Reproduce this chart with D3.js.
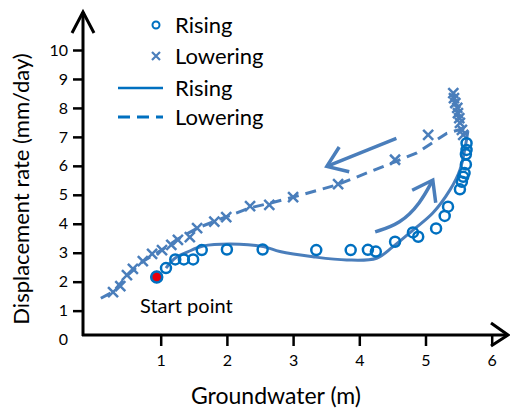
<!DOCTYPE html>
<html>
<head>
  <meta charset="utf-8">
  <title>Groundwater vs displacement rate</title>
  <script src="https://d3js.org/d3.v7.min.js"></script>
  <style>
    body { margin: 0; background: white; }
    text { font-family: Lato, "Open Sans", sans-serif; fill: #000; }
  </style>
</head>
<body>
<script>
  // Data (groundwater m, displacement mm/day)
  var risingPts = [
    [0.94, 2.16], [1.08, 2.47], [1.22, 2.77], [1.35, 2.77], [1.49, 2.77],
    [1.62, 3.09], [2.00, 3.11], [2.54, 3.11], [3.35, 3.09], [3.87, 3.09],
    [4.13, 3.10], [4.25, 3.04], [4.54, 3.38], [4.81, 3.70], [4.89, 3.55],
    [5.16, 3.84], [5.29, 4.27], [5.34, 4.59], [5.52, 5.19], [5.55, 5.45],
    [5.57, 5.62], [5.59, 5.75], [5.61, 6.05], [5.61, 6.40], [5.62, 6.55],
    [5.62, 6.78]
  ];
  var loweringPts = [
    [5.42, 8.51], [5.43, 8.34], [5.45, 8.17], [5.48, 8.00], [5.49, 7.82],
    [5.51, 7.65], [5.52, 7.48], [5.55, 7.24], [5.57, 7.07], [5.04, 7.07],
    [4.54, 6.21], [3.68, 5.37], [3.00, 4.92], [2.64, 4.65], [2.35, 4.61],
    [1.99, 4.23], [1.81, 4.07], [1.55, 3.85], [1.44, 3.54], [1.26, 3.44],
    [1.16, 3.27], [1.02, 3.09], [0.87, 2.96], [0.73, 2.71], [0.58, 2.44],
    [0.49, 2.23], [0.39, 1.85], [0.28, 1.64]
  ];
  var risingCurve = [
    [1.08, 2.47], [1.22, 2.82], [1.40, 3.02], [1.64, 3.23], [2.05, 3.30],
    [2.55, 3.21], [2.80, 3.04], [3.30, 2.86], [3.81, 2.75], [4.26, 2.81],
    [4.51, 3.21], [4.81, 3.78], [5.11, 4.37], [5.37, 5.17], [5.52, 5.86],
    [5.60, 6.65], [5.64, 7.20]
  ];
  var loweringCurve = [
    [5.42, 8.55], [5.47, 8.00], [5.52, 7.50], [5.56, 7.28], [5.32, 7.12],
    [4.87, 6.45], [4.54, 6.14], [3.66, 5.34], [3.00, 4.92], [2.65, 4.71],
    [2.35, 4.55], [2.00, 4.25], [1.55, 3.85], [1.26, 3.47], [1.02, 3.10],
    [0.73, 2.70], [0.49, 2.20], [0.28, 1.65], [0.04, 1.36]
  ];
  var startPoint = [0.94, 2.16];
  var xTicks = [1, 2, 3, 4, 5, 6];
  var yTicks = [0, 1, 2, 3, 4, 5, 6, 7, 8, 9, 10];
  // direction arrows
  var arrowLower = [[4.56, 6.95], [3.51, 5.98]];
  var arrowRise = [[4.24, 3.72], [4.62, 4.00], [4.92, 4.70], [5.11, 5.51]];

  var W = 510, H = 412;
  var axisX = 83, axisY = 335;
  var blue = "#0070C0", steel = "#4A7EBB";

  var svg = d3.select("body").append("svg")
      .attr("width", W).attr("height", H);

  var x = d3.scaleLinear().domain([0, 6]).range([94.5, 491.7]);
  var y = d3.scaleLinear().domain([0, 10]).range([339.6, 50]);

  // axes lines with arrowheads
  svg.append("path")
      .attr("d", "M" + axisX + "," + (axisY + 1) + "V12")
      .attr("stroke", "#000").attr("stroke-width", 3).attr("fill", "none");
  svg.append("path")
      .attr("d", "M72,33L" + axisX + ",12L94,33")
      .attr("stroke", "#000").attr("stroke-width", 3).attr("fill", "none");
  svg.append("path")
      .attr("d", "M" + (axisX - 1) + "," + axisY + "H507")
      .attr("stroke", "#000").attr("stroke-width", 3).attr("fill", "none");
  svg.append("path")
      .attr("d", "M491,323L508," + axisY + "L491,346")
      .attr("stroke", "#000").attr("stroke-width", 3).attr("fill", "none");

  // y ticks
  var gy = svg.append("g")
      .attr("transform", "translate(" + axisX + ",0)")
      .call(d3.axisLeft(y).tickValues(yTicks).tickSize(10).tickPadding(5)
              .tickFormat(d3.format("d")));
  gy.select(".domain").remove();
  gy.selectAll(".tick line").attr("stroke", "#000").attr("stroke-width", 2.5)
      .filter(function(d) { return d === 0; }).remove();
  gy.selectAll(".tick text").style("font-size", "16px").style("font-family", "Lato");

  // x ticks
  var gx = svg.append("g")
      .attr("transform", "translate(0," + axisY + ")")
      .call(d3.axisBottom(x).tickValues(xTicks).tickSize(11).tickPadding(9)
              .tickFormat(d3.format("d")));
  gx.select(".domain").remove();
  gx.selectAll(".tick line").attr("stroke", "#000").attr("stroke-width", 2.5);
  gx.selectAll(".tick text").style("font-size", "16px").style("font-family", "Lato");

  // axis titles
  svg.append("text")
      .attr("x", 276).attr("y", 404)
      .attr("text-anchor", "middle")
      .style("font-size", "23px")
      .text("Groundwater (m)");
  svg.append("text")
      .attr("transform", "translate(29,189) rotate(-90)")
      .attr("text-anchor", "middle")
      .style("font-size", "22px")
      .text("Displacement rate (mm/day)");

  var line = d3.line().x(function(d) { return x(d[0]); }).y(function(d) { return y(d[1]); });

  // fitted curves
  svg.append("path")
      .attr("d", line.curve(d3.curveCatmullRom)(risingCurve))
      .attr("fill", "none").attr("stroke", steel).attr("stroke-width", 3);
  svg.append("path")
      .attr("d", line.curve(d3.curveLinear)(loweringCurve))
      .attr("fill", "none").attr("stroke", steel).attr("stroke-width", 3)
      .attr("stroke-dasharray", "11,7");

  // lowering X markers
  var xm = 5;
  svg.selectAll(".xmark")
      .data(loweringPts)
      .enter().append("path")
      .attr("class", "xmark")
      .attr("d", function(d) {
        var cx = x(d[0]), cy = y(d[1]);
        return "M" + (cx - xm) + "," + (cy - xm) + "L" + (cx + xm) + "," + (cy + xm) +
               "M" + (cx - xm) + "," + (cy + xm) + "L" + (cx + xm) + "," + (cy - xm);
      })
      .attr("stroke", steel).attr("stroke-width", 2.5).attr("fill", "none");

  // rising circles
  svg.selectAll(".rmark")
      .data(risingPts)
      .enter().append("circle")
      .attr("class", "rmark")
      .attr("cx", function(d) { return x(d[0]); })
      .attr("cy", function(d) { return y(d[1]); })
      .attr("r", 5)
      .attr("fill", "none").attr("stroke", blue).attr("stroke-width", 2.5);

  svg.append("circle")
      .attr("cx", x(startPoint[0])).attr("cy", y(startPoint[1]))
      .attr("r", 5.5)
      .attr("fill", "#E8000B").attr("stroke", blue).attr("stroke-width", 2.5);
  svg.append("text")
      .attr("x", 140).attr("y", 313)
      .style("font-size", "20px")
      .text("Start point");

  // direction arrows
  function drawArrow(pts, curved) {
    var l = d3.line().x(function(d) { return x(d[0]); }).y(function(d) { return y(d[1]); })
        .curve(curved ? d3.curveBasis : d3.curveLinear);
    svg.append("path").attr("d", l(pts))
        .attr("fill", "none").attr("stroke", steel).attr("stroke-width", 3.5);
    var a = pts[pts.length - 2], b = pts[pts.length - 1];
    var tx = x(b[0]), ty = y(b[1]);
    var ang = Math.atan2(ty - y(a[1]), tx - x(a[0]));
    var len = 23, spread = 0.62;
    var p1 = [tx - len * Math.cos(ang - spread), ty - len * Math.sin(ang - spread)];
    var p2 = [tx - len * Math.cos(ang + spread), ty - len * Math.sin(ang + spread)];
    svg.append("path")
        .attr("d", "M" + p1 + "L" + tx + "," + ty + "L" + p2)
        .attr("fill", "none").attr("stroke", steel).attr("stroke-width", 3.5);
  }
  drawArrow(arrowLower, false);
  drawArrow(arrowRise, true);

  // legend
  var lg = svg.append("g");
  lg.append("circle").attr("cx", 156).attr("cy", 25).attr("r", 3.5)
      .attr("fill", "none").attr("stroke", blue).attr("stroke-width", 2);
  lg.append("path").attr("d", "M152,52L160,60M152,60L160,52")
      .attr("stroke", steel).attr("stroke-width", 2.2);
  lg.append("path").attr("d", "M118,88H163")
      .attr("stroke", blue).attr("stroke-width", 2.5);
  lg.append("path").attr("d", "M118,117H163")
      .attr("stroke", blue).attr("stroke-width", 3).attr("stroke-dasharray", "12,7");
  var legendLabels = ["Rising", "Lowering", "Rising", "Lowering"];
  var legendY = [25, 56, 88, 117];
  lg.selectAll(".lt").data(legendLabels).enter().append("text")
      .attr("x", 175).attr("y", function(d, i) { return legendY[i]; })
      .attr("dy", "0.35em")
      .style("font-size", "22px")
      .text(function(d) { return d; });
</script>
</body>
</html>
